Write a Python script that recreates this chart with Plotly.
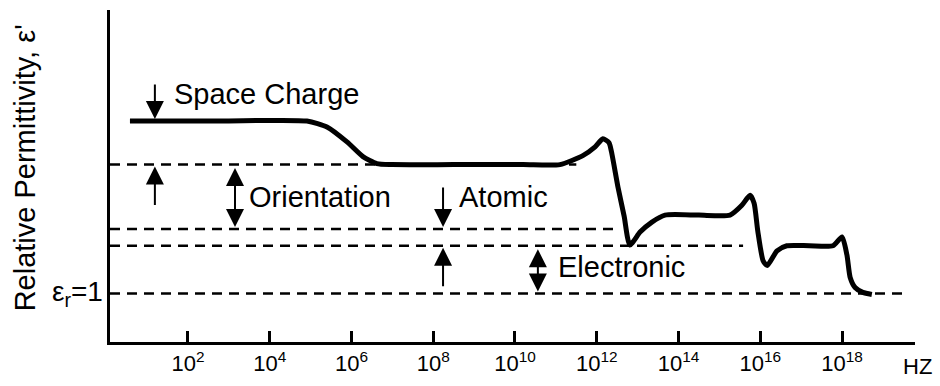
import plotly.graph_objects as go

# ---- data (frequency given as log10 Hz, permittivity in arbitrary units) ----
curve_log_f = [0.58, 2.80, 4.91, 5.40, 5.89, 6.28, 6.62, 6.99, 8.50, 10.20, 11.10, 11.66, 11.96,
               12.15, 12.30, 12.37, 12.52, 12.67, 12.81, 13.06, 13.35, 13.67, 14.50, 15.26,
               15.55, 15.75, 15.85, 15.94, 16.07, 16.17, 16.41, 16.65, 17.20, 17.78, 18.00,
               18.12, 18.20, 18.32, 18.51, 18.73]
curve_eps = [7.69, 7.69, 7.69, 7.46, 6.88, 6.31, 6.04, 6.00, 6.00, 6.00, 6.00, 6.35, 6.69,
             7.00, 6.85, 6.42, 5.12, 4.00, 2.88, 3.38, 3.77, 4.04, 4.04, 4.04,
             4.42, 4.81, 4.50, 3.42, 2.27, 2.08, 2.65, 2.85, 2.85, 2.85, 3.19,
             2.50, 1.62, 1.23, 1.04, 0.96]

level_names = ["orientation", "atomic", "electronic", "vacuum"]
level_eps = [6.0, 3.5, 2.85, 1.0]
level_end_log_f = [11.5, 12.40, 15.58, 19.59]

tick_exponents = [2, 4, 6, 8, 10, 12, 14, 16, 18]
tick_labels = ["10<sup>%d</sup>" % e for e in tick_exponents]

space_charge_eps = curve_eps[0]

X_MIN, X_MAX = 0.092, 19.786
Y_MIN, Y_MAX = -0.885, 12.0
FONT = "Arial, Liberation Sans, sans-serif"

fig = go.Figure()

for name, lev, end in zip(level_names, level_eps, level_end_log_f):
    fig.add_trace(go.Scatter(
        x=[10 ** X_MIN, 10 ** end], y=[lev, lev], mode="lines", name=name,
        line=dict(color="black", width=2.5, dash="10px,7px"), hoverinfo="skip"))

fig.add_trace(go.Scatter(
    x=[10 ** v for v in curve_log_f], y=curve_eps, mode="lines", name="ε'",
    line=dict(color="black", width=5, shape="spline", smoothing=0.6)))

ann = []
txt = dict(showarrow=False, xanchor="left", yanchor="middle",
           font=dict(family=FONT, size=29, color="black"))
ann.append(dict(text="Space Charge", x=1.60, y=8.75, **txt))
ann.append(dict(text="Orientation", x=3.44, y=4.75, **txt))
ann.append(dict(text="Atomic", x=8.58, y=4.75, **txt))
ann.append(dict(text="Electronic", x=11.0, y=2.03, **txt))

AS = 1.8
arr = dict(text="", showarrow=True, arrowhead=2, arrowsize=AS, arrowwidth=2,
           arrowcolor="black")
# single arrows (pixel tails)
ann.append(dict(x=1.19, y=space_charge_eps, ax=0, ay=-38, standoff=2, **arr))
ann.append(dict(x=1.19, y=level_eps[0], ax=0, ay=42, standoff=2, **arr))
ann.append(dict(x=8.24, y=level_eps[1], ax=0, ay=-43, standoff=2, **arr))
ann.append(dict(x=8.24, y=level_eps[2], ax=0, ay=42, standoff=2, **arr))
# double arrows
ann.append(dict(x=3.15, y=level_eps[1], ax=3.15, ay=level_eps[0], axref="x", ayref="y",
                arrowside="end+start", startarrowhead=2, startarrowsize=AS,
                standoff=2, startstandoff=2, **arr))
ann.append(dict(x=10.56, y=level_eps[3], ax=10.56, ay=level_eps[2], axref="x", ayref="y",
                arrowside="end+start", startarrowhead=2, startarrowsize=AS,
                standoff=2, startstandoff=2, **arr))

# epsilon_r = 1 label
ann.append(dict(text="ε<sub>r</sub>=1", x=-0.006, xref="paper", y=level_eps[3], yref="y",
                xanchor="right", yanchor="middle", showarrow=False,
                font=dict(family=FONT, size=28, color="black")))
# y title
ann.append(dict(text="Relative Permittivity, ε'", x=-0.106, xref="paper", y=0.525, yref="paper",
                textangle=-90, xanchor="center", yanchor="middle", showarrow=False,
                font=dict(family=FONT, size=29, color="black")))
# HZ unit label
ann.append(dict(text="HZ", x=0.982, xref="paper", y=-0.03, yref="paper",
                xanchor="left", yanchor="top", showarrow=False,
                font=dict(family=FONT, size=22, color="black")))

fig.update_layout(
    width=940, height=386,
    margin=dict(l=110, r=25, t=10, b=41),
    paper_bgcolor="white", plot_bgcolor="white",
    showlegend=False,
    annotations=ann,
    font=dict(family=FONT, color="black"),
)
fig.update_xaxes(type="log", range=[X_MIN, X_MAX], showline=True, linewidth=3,
                 linecolor="black", showgrid=False, zeroline=False,
                 tickvals=[10 ** e for e in tick_exponents], ticktext=tick_labels,
                 ticks="inside", ticklen=11, tickwidth=2.5, tickcolor="black",
                 tickfont=dict(family=FONT, size=22, color="black"))
fig.update_yaxes(range=[Y_MIN, Y_MAX], showline=True, linewidth=3, linecolor="black",
                 showgrid=False, zeroline=False, showticklabels=False, ticks="")

fig.write_html("out.html", config={"displayModeBar": False},
               post_script="document.body.style.margin='0px';document.body.style.overflow='hidden';")
